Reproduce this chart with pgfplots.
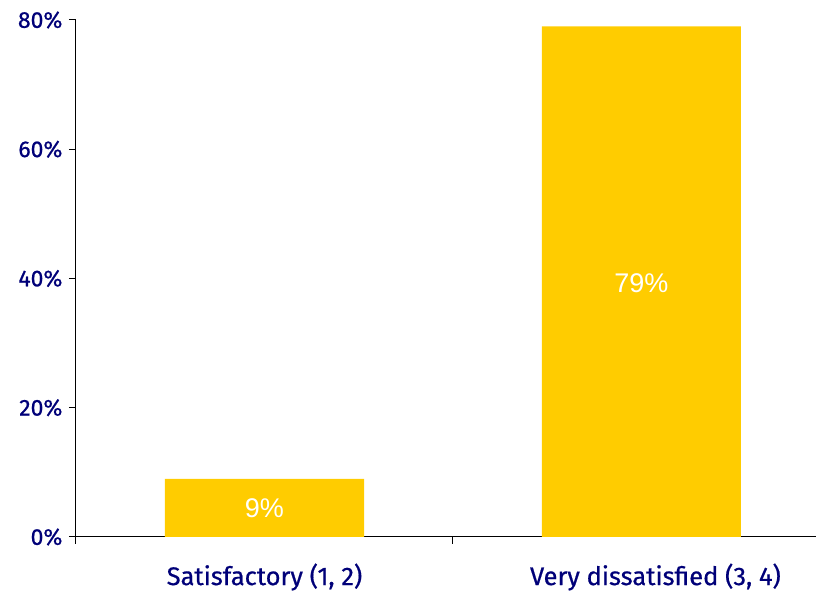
\documentclass[border=0pt]{standalone}
\usepackage{pgfplots}
\pgfplotsset{compat=1.18}
\usepackage{fontspec}
\setmainfont{Fira Sans}[FakeBold=0.6]
\newfontfamily\arial{Liberation Sans}
\definecolor{navy}{HTML}{000078}
\definecolor{gold}{HTML}{FFCC00}
\begin{document}
\begin{tikzpicture}
\begin{axis}[
  name=ax,
  scale only axis,
  width=740pt, height=517pt,
  xmin=0, xmax=1.963,
  ymin=0, ymax=80,
  axis x line*=bottom,
  axis y line*=left,
  axis line style={black, line width=1pt},
  xtick={0.5,1.537},
  xticklabels={{Satisfactory (1, 2)}, {Very dissatisfied (3, 4)}},
  major x tick style={draw=none},
  minor xtick={0,1,2},
  minor tick length=7pt,
  tick align=outside,
  ytick={0,20,40,60,80},
  major tick length=7pt,
  tick style={black, line width=1pt},
  yticklabel={\pgfmathprintnumber{\tick}\%},
  /pgf/number format/assume math mode=true,
  ticklabel style={text=navy},
  y tick label style={font=\fontsize{23}{27}\selectfont, xshift=-3pt},
  x tick label style={font=\fontsize{25.5}{30}\selectfont, yshift=-16pt},
  clip=false,
]
\addplot[ybar, bar width=0.528, fill=gold, draw=none] coordinates {(0.5,9) (1.5,79)};
\addplot[only marks, mark=none, nodes near coords, point meta=explicit symbolic,
  every node near coord/.append style={anchor=center, text=white, font=\arial\fontsize{27}{30}\selectfont}]
  coordinates {(0.5,4.5)[9\%] (1.5,39.3)[79\%]};
\end{axis}
\pgfresetboundingbox
\path ([xshift=-76pt,yshift=-56pt]ax.south west) rectangle ([xshift=740pt,yshift=537pt]ax.south west);
\end{tikzpicture}
\end{document}
